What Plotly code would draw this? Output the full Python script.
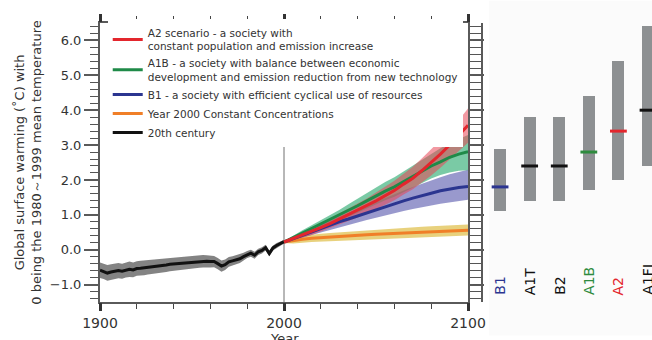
import plotly.graph_objects as go

# ---------------- data ----------------
hist_years = list(range(1900, 2001, 2))
hist_mean = [-0.59, -0.62, -0.67, -0.64, -0.62, -0.60, -0.62, -0.58, -0.56, -0.58,
             -0.54, -0.53, -0.52, -0.50, -0.49, -0.47, -0.46, -0.45, -0.44, -0.42,
             -0.41, -0.40, -0.39, -0.37, -0.36, -0.36, -0.35, -0.34, -0.33, -0.33,
             -0.34, -0.34, -0.40, -0.47, -0.43, -0.35, -0.32, -0.29, -0.26, -0.20,
             -0.14, -0.10, -0.16, -0.06, -0.02, 0.06, -0.11, 0.05, 0.12, 0.17, 0.23]
hist_upper = [-0.37, -0.40, -0.44, -0.42, -0.40, -0.38, -0.40, -0.36, -0.34, -0.37,
              -0.33, -0.32, -0.31, -0.29, -0.28, -0.27, -0.26, -0.25, -0.24, -0.22,
              -0.21, -0.21, -0.20, -0.18, -0.17, -0.17, -0.17, -0.16, -0.15, -0.16,
              -0.17, -0.18, -0.24, -0.31, -0.28, -0.21, -0.19, -0.16, -0.14, -0.09,
              -0.04, 0.00, -0.06, 0.03, 0.07, 0.14, -0.03, 0.12, 0.19, 0.23, 0.28]
hist_lower = [-0.81, -0.84, -0.89, -0.86, -0.84, -0.82, -0.83, -0.80, -0.78, -0.79,
              -0.75, -0.74, -0.73, -0.71, -0.70, -0.67, -0.66, -0.65, -0.64, -0.62,
              -0.61, -0.59, -0.58, -0.56, -0.55, -0.55, -0.53, -0.52, -0.51, -0.50,
              -0.51, -0.50, -0.56, -0.63, -0.58, -0.49, -0.45, -0.42, -0.38, -0.31,
              -0.24, -0.20, -0.26, -0.15, -0.11, -0.02, -0.19, -0.02, 0.05, 0.11, 0.18]

proj_years = list(range(2000, 2101, 5))
a2_mean = [0.22, 0.32, 0.42, 0.52, 0.63, 0.75, 0.88, 1.00, 1.12, 1.25, 1.40,
           1.55, 1.70, 1.88, 2.05, 2.27, 2.50, 2.74, 3.00, 3.28, 3.57]
a2_upper = [0.24, 0.38, 0.50, 0.62, 0.75, 0.89, 1.04, 1.18, 1.32, 1.47, 1.64,
            1.81, 1.98, 2.18, 2.38, 2.62, 2.88, 3.14, 3.40, 3.72, 4.05]
a2_lower = [0.20, 0.27, 0.34, 0.42, 0.51, 0.61, 0.72, 0.82, 0.92, 1.03, 1.16,
            1.29, 1.42, 1.58, 1.73, 1.93, 2.13, 2.35, 2.58, 2.83, 3.07]

a1b_mean = [0.22, 0.35, 0.48, 0.60, 0.72, 0.86, 0.98, 1.12, 1.26, 1.40, 1.55,
            1.68, 1.80, 1.95, 2.10, 2.25, 2.40, 2.52, 2.65, 2.74, 2.81]
a1b_upper = [0.24, 0.41, 0.56, 0.70, 0.84, 1.00, 1.14, 1.30, 1.46, 1.62, 1.79,
             1.94, 2.08, 2.25, 2.42, 2.59, 2.76, 2.91, 3.06, 3.18, 3.29]
a1b_lower = [0.20, 0.29, 0.40, 0.50, 0.60, 0.72, 0.82, 0.94, 1.06, 1.18, 1.31,
             1.42, 1.52, 1.65, 1.78, 1.91, 2.04, 2.14, 2.21, 2.26, 2.28]

b1_mean = [0.22, 0.32, 0.42, 0.52, 0.62, 0.71, 0.80, 0.88, 0.97, 1.06, 1.15,
           1.24, 1.32, 1.40, 1.48, 1.56, 1.62, 1.69, 1.74, 1.78, 1.81]
b1_upper = [0.24, 0.37, 0.49, 0.61, 0.73, 0.84, 0.95, 1.05, 1.16, 1.27, 1.38,
            1.49, 1.59, 1.70, 1.80, 1.90, 1.99, 2.08, 2.16, 2.23, 2.29]
b1_lower = [0.20, 0.27, 0.35, 0.43, 0.51, 0.58, 0.65, 0.71, 0.78, 0.85, 0.92,
            0.99, 1.05, 1.11, 1.17, 1.23, 1.27, 1.32, 1.36, 1.40, 1.43]

const_mean = [0.22, 0.27, 0.30, 0.33, 0.35, 0.37, 0.38, 0.39, 0.41, 0.43, 0.44,
              0.45, 0.46, 0.48, 0.49, 0.50, 0.51, 0.52, 0.54, 0.55, 0.56]
const_upper = [0.25, 0.36, 0.40, 0.44, 0.46, 0.48, 0.50, 0.51, 0.53, 0.56, 0.58,
               0.59, 0.60, 0.63, 0.64, 0.66, 0.67, 0.68, 0.70, 0.71, 0.72]
const_lower = [0.19, 0.18, 0.20, 0.22, 0.23, 0.25, 0.25, 0.26, 0.28, 0.30, 0.31,
               0.31, 0.32, 0.34, 0.35, 0.36, 0.37, 0.38, 0.39, 0.40, 0.41]

scenarios = ["B1", "A1T", "B2", "A1B", "A2", "A1FI"]
range_low = [1.1, 1.4, 1.4, 1.7, 2.0, 2.4]
range_high = [2.9, 3.8, 3.8, 4.4, 5.4, 6.4]
best_est = [1.8, 2.4, 2.4, 2.8, 3.4, 4.0]
scenario_colors = ["#2b3590", "#111111", "#111111", "#2e8b3e", "#e3262d", "#111111"]

legend_names = [
    "A2 scenario - a society with<br>constant population and emission increase",
    "A1B - a society with balance between economic<br>development and emission reduction from new technology",
    "B1 - a society with efficient cyclical use of resources",
    "Year 2000 Constant Concentrations",
    "20th century",
]
base_year = 2000
x_ticks = [1900, 2000, 2100]
y_ticks = [-1.0, 0.0, 1.0, 2.0, 3.0, 4.0, 5.0, 6.0]

# ---------------- figure ----------------
FONT = "DejaVu Sans"
X_RANGE = [1900, 2100]
Y_RANGE = [-1.5, 6.5]
x_minor = [X_RANGE[0] + 20 * k for k in range(11)]
y_minor = [round(-1.4 + 0.2 * k, 1) for k in range(40)]

fig = go.Figure()


def band(x, lo, hi, color):
    fig.add_trace(go.Scatter(x=x + x[::-1], y=hi + lo[::-1], fill="toself",
                             fillcolor=color, line=dict(width=0),
                             hoverinfo="skip", showlegend=False, mode="lines"))


band(hist_years, hist_lower, hist_upper, "rgba(100,100,100,0.8)")
band(proj_years, const_lower, const_upper, "rgba(222,190,70,0.7)")
band(proj_years, b1_lower, b1_upper, "rgba(90,90,175,0.62)")
band(proj_years, a1b_lower, a1b_upper, "rgba(40,170,110,0.62)")
band(proj_years, a2_lower, a2_upper, "rgba(232,70,85,0.55)")

series = [
    (hist_years, hist_mean, "#111111", legend_names[4], 5),
    (proj_years, const_mean, "#f07f28", legend_names[3], 4),
    (proj_years, b1_mean, "#2b3590", legend_names[2], 3),
    (proj_years, a1b_mean, "#1f8a48", legend_names[1], 2),
    (proj_years, a2_mean, "#e3262d", legend_names[0], 1),
]
for xs, ys, col, name, rank in series:
    fig.add_trace(go.Scatter(x=xs, y=ys, mode="lines", name=name,
                             line=dict(color=col, width=3), legendrank=rank))

# empty helper trace so the major-tick overlay axes get drawn
fig.add_trace(go.Scatter(x=[None], y=[None], xaxis="x3", yaxis="y3", mode="lines",
                         showlegend=False, hoverinfo="skip"))

# right panel: ranges and best estimates
idx = list(range(len(scenarios)))
fig.add_trace(go.Bar(x=idx, y=[h - l for h, l in zip(range_high, range_low)],
                     base=range_low, width=0.41, marker=dict(color="#8d9092", line=dict(width=0)),
                     xaxis="x2", yaxis="y", showlegend=False))
fig.add_trace(go.Scatter(x=idx, y=best_est, mode="markers", xaxis="x2", yaxis="y",
                         showlegend=False,
                         marker=dict(symbol="line-ew", size=12,
                                     line=dict(color=scenario_colors, width=3))))

for i, (s, c) in enumerate(zip(scenarios, scenario_colors)):
    fig.add_annotation(x=i, y=-1.36, xref="x2", yref="y", text=s, textangle=-90,
                       showarrow=False, yanchor="bottom", xanchor="center",
                       font=dict(family=FONT, size=14, color=c))

# vertical divider line at 2000
fig.add_shape(type="line", x0=base_year, x1=base_year, y0=Y_RANGE[0], y1=4.0,
              xref="x", yref="y", line=dict(color="#a0a0a0", width=1.5), layer="below")
# light panel background
fig.add_shape(type="rect", xref="paper", yref="paper", x0=0.705, x1=1.0,
              y0=-0.12, y1=1.08, fillcolor="#fbfbfb", line=dict(width=0), layer="below")

# y-axis title
fig.add_annotation(xref="paper", yref="paper", x=-0.132, y=0.5,
                   text="Global surface warming (˚C) with<br>0 being the 1980～1999 mean temperature",
                   textangle=-90, showarrow=False, xanchor="center", yanchor="middle",
                   font=dict(family=FONT, size=13, color="#333333"))
# x-axis title
fig.add_annotation(xref="x", yref="paper", x=base_year, y=-0.132, text="Year",
                   showarrow=False, xanchor="center", yanchor="middle",
                   font=dict(family=FONT, size=13, color="#333333"))

axis_col = "#5a5a5a"
XDOM = [0, 0.6667]
fig.update_layout(
    width=652, height=340,
    margin=dict(l=100, r=0, t=22.5, b=37.5, autoexpand=False),
    paper_bgcolor="white", plot_bgcolor="rgba(0,0,0,0)",
    font=dict(family=FONT, color="#333333"),
    showlegend=True,
    legend=dict(x=0.014, y=1.013, xanchor="left", yanchor="top",
                bgcolor="white", font=dict(family=FONT, size=10.5, color="#333333"),
                tracegroupgap=0, itemwidth=30),
    # minor-tick axes (carry the data)
    xaxis=dict(domain=XDOM, range=X_RANGE, tickvals=x_minor, showticklabels=False,
               ticks="outside", ticklen=5, tickwidth=1.4, tickcolor="#444444",
               showline=True, linecolor=axis_col, linewidth=1.5, mirror="allticks",
               showgrid=False, zeroline=False, automargin=False),
    yaxis=dict(range=Y_RANGE, tickvals=y_minor, showticklabels=False,
               ticks="outside", ticklen=8, tickwidth=1.2, tickcolor="#555555",
               showline=True, linecolor=axis_col, linewidth=1.5, mirror="allticks",
               showgrid=False, zeroline=False, automargin=False),
    # major-tick overlay axes with labels
    xaxis3=dict(domain=XDOM, range=X_RANGE, overlaying="x", anchor="y3", side="bottom",
                tickvals=x_ticks, ticks="outside", ticklen=8, tickwidth=2.5, tickcolor="#333333",
                mirror="allticks", showline=False, showgrid=False, zeroline=False, automargin=False,
                tickfont=dict(family=FONT, size=14, color="#333333")),
    yaxis3=dict(range=Y_RANGE, overlaying="y", anchor="x3", side="left",
                tickvals=y_ticks, tickformat=".1f", ticks="outside", ticklen=15, tickwidth=1.5,
                tickcolor=axis_col, mirror="allticks", showline=False, showgrid=False,
                zeroline=False, automargin=False,
                tickfont=dict(family=FONT, size=13, color="#333333")),
    xaxis2=dict(domain=[0.694, 1.0], range=[-0.574, 5.135], anchor="y", visible=False),
    bargap=0,
)

fig.write_html("out.html")
